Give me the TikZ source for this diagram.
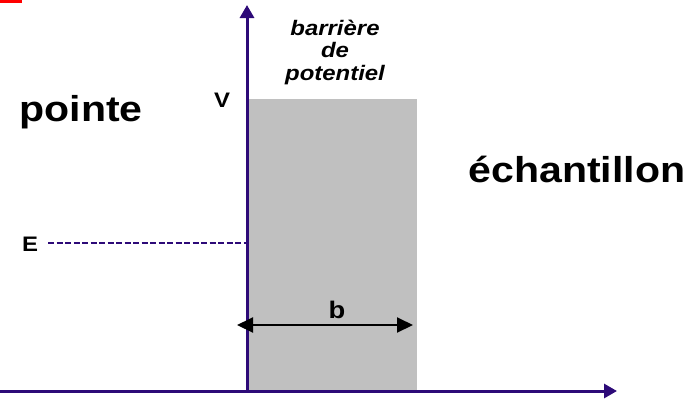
\documentclass[tikz,border=0pt]{standalone}
\usepackage{fontspec}
\setmainfont{Liberation Sans}
\usetikzlibrary{arrows.meta}
\definecolor{axiscol}{RGB}{45,10,120}
\definecolor{barrier}{RGB}{192,192,192}
\newcommand\wide[1]{\scalebox{1.14}[1]{#1}}
\tikzset{
  axis/.style={draw=axiscol,line width=3pt,-{Triangle[length=13pt,width=14pt]}},
  lbl/.style={anchor=base,inner sep=0pt,font=\bfseries},
  dim/.style={draw=black,line width=2pt,{Triangle[length=16pt,width=15pt]}-{Triangle[length=16pt,width=15pt]}}
}
\begin{document}
\begin{tikzpicture}[x=1pt,y=-1pt]
\useasboundingbox (0,0) rectangle (692,400);
\fill[red] (0,0) rectangle (22,2.5);
\fill[barrier] (247,99) rectangle (417,390);
\coordinate (origin) at (247,391);
\coordinate (ytip) at (247,5);
\coordinate (xstart) at (0,391);
\coordinate (xtip) at (617,391);
\draw[axis] (origin) -- (ytip);
\draw[axis] (xstart) -- (xtip);
\node[lbl,font=\bfseries\fontsize{21}{21}\selectfont] (E) at (30,251) {\wide{E}};
\coordinate (Estart) at (48,243);
\coordinate (Eend) at (246,243);
\draw[axiscol,line width=2.3pt,dash pattern=on 6pt off 2.5pt] (Estart) -- (Eend);
\node[lbl,font=\bfseries\fontsize{21}{21}\selectfont] (V) at (222,107) {\wide{V}};
\node[lbl,font=\bfseries\fontsize{36}{36}\selectfont] (pointe) at (81,121) {\wide{pointe}};
\node[lbl,font=\bfseries\fontsize{36}{36}\selectfont] (ech) at (577,182) {\wide{échantillon}};
\node[lbl,font=\bfseries\itshape\fontsize{21}{21}\selectfont] (l1) at (335,35) {\wide{barrière}};
\node[lbl,font=\bfseries\itshape\fontsize{21}{21}\selectfont] (l2) at (335,57) {\wide{de}};
\node[lbl,font=\bfseries\itshape\fontsize{21}{21}\selectfont] (l3) at (335,80) {\wide{potentiel}};
\coordinate (bl) at (237,325);
\coordinate (br) at (413,325);
\draw[dim] (bl) -- (br);
\node[lbl,font=\bfseries\fontsize{24}{24}\selectfont] (b) at (337,318) {\wide{b}};
\end{tikzpicture}
\end{document}
